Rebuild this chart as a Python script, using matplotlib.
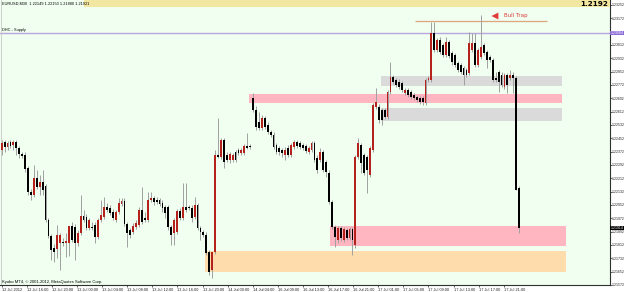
import numpy as np
import matplotlib
matplotlib.use("Agg")
import matplotlib.pyplot as plt
import matplotlib.transforms as mtransforms
from matplotlib.patches import Rectangle

# EURUSD M30 candles, oldest first
opens = [1.22382, 1.22430, 1.22400, 1.22430, 1.22412, 1.22430, 1.22394, 1.22358, 1.22352, 1.22274,
         1.22130, 1.22112, 1.22214, 1.22160, 1.22190, 1.22166, 1.21962, 1.21866, 1.21794, 1.21788,
         1.21824, 1.21830, 1.21824, 1.21824, 1.21926, 1.21920, 1.21824, 1.21884, 1.21986, 1.21980,
         1.21914, 1.21920, 1.21932, 1.21860, 1.21962, 1.21980, 1.22040, 1.22034, 1.22010, 1.21962,
         1.22010, 1.22058, 1.22076, 1.21938, 1.21902, 1.21890, 1.21920, 1.21932, 1.22022, 1.21974,
         1.21962, 1.22082, 1.22094, 1.22082, 1.22082, 1.22064, 1.22040, 1.22040, 1.21920, 1.21884,
         1.21890, 1.22016, 1.21974, 1.22040, 1.22040, 1.22034, 1.21980, 1.22052, 1.21914, 1.21890,
         1.21872, 1.21770, 1.21662, 1.21770, 1.22352, 1.22340, 1.22442, 1.22352, 1.22322, 1.22322,
         1.22370, 1.22382, 1.22364, 1.22364, 1.22406, 1.22406, 1.22694, 1.22622, 1.22550, 1.22514,
         1.22574, 1.22532, 1.22490, 1.22472, 1.22412, 1.22394, 1.22382, 1.22352, 1.22394, 1.22352,
         1.22400, 1.22430, 1.22424, 1.22412, 1.22406, 1.22370, 1.22382, 1.22424, 1.22334, 1.22322,
         1.22370, 1.22310, 1.22244, 1.22070, 1.21920, 1.21842, 1.21914, 1.21842, 1.21902, 1.21854,
         1.21908, 1.21812, 1.22340, 1.22412, 1.22352, 1.22340, 1.22232, 1.22382, 1.22640, 1.22640,
         1.22622, 1.22622, 1.22580, 1.22730, 1.22820, 1.22802, 1.22790, 1.22784, 1.22724, 1.22742,
         1.22730, 1.22712, 1.22700, 1.22694, 1.22694, 1.22664, 1.22802, 1.22802, 1.23084, 1.22982,
         1.23042, 1.23012, 1.22952, 1.23030, 1.22964, 1.22952, 1.22904, 1.22892, 1.22874, 1.22862,
         1.22844, 1.22982, 1.23024, 1.22892, 1.22940, 1.23012, 1.22970, 1.22940, 1.22922, 1.22814,
         1.22850, 1.22832, 1.22760, 1.22832, 1.22814, 1.22832, 1.22814, 1.22154]
highs = [1.22442, 1.22442, 1.22436, 1.22442, 1.22442, 1.22442, 1.22406, 1.22370, 1.22370, 1.22286,
         1.22148, 1.22292, 1.22262, 1.22232, 1.22262, 1.22178, 1.21974, 1.21878, 1.21818, 1.21932,
         1.21884, 1.21854, 1.21884, 1.21926, 1.21950, 1.21938, 1.21902, 1.22112, 1.22022, 1.21998,
         1.21974, 1.21950, 1.21950, 1.21974, 1.22082, 1.22100, 1.22064, 1.22052, 1.22028, 1.22022,
         1.22094, 1.22094, 1.22094, 1.21950, 1.21914, 1.21944, 1.21962, 1.22040, 1.22160, 1.22010,
         1.22130, 1.22130, 1.22106, 1.22100, 1.22094, 1.22082, 1.22052, 1.22052, 1.21932, 1.21974,
         1.22028, 1.22034, 1.22184, 1.22184, 1.22052, 1.22052, 1.22100, 1.22064, 1.21926, 1.21902,
         1.21890, 1.21782, 1.21770, 1.22382, 1.22574, 1.22454, 1.22454, 1.22370, 1.22370, 1.22364,
         1.22382, 1.22394, 1.22394, 1.22418, 1.22484, 1.22418, 1.22724, 1.22646, 1.22610, 1.22592,
         1.22586, 1.22550, 1.22502, 1.22490, 1.22424, 1.22406, 1.22394, 1.22400, 1.22412, 1.22424,
         1.22442, 1.22442, 1.22436, 1.22424, 1.22418, 1.22406, 1.22436, 1.22436, 1.22352, 1.22394,
         1.22382, 1.22322, 1.22262, 1.22082, 1.21932, 1.21926, 1.21926, 1.21920, 1.21914, 1.21920,
         1.21920, 1.22352, 1.22454, 1.22424, 1.22364, 1.22352, 1.22406, 1.22664, 1.22754, 1.22658,
         1.22634, 1.22634, 1.22742, 1.22910, 1.22832, 1.22814, 1.22808, 1.22796, 1.22754, 1.22754,
         1.22742, 1.22724, 1.22712, 1.22706, 1.22706, 1.22814, 1.22826, 1.23150, 1.23150, 1.23054,
         1.23060, 1.23024, 1.23060, 1.23042, 1.22976, 1.22964, 1.22916, 1.22904, 1.22886, 1.22874,
         1.23090, 1.23084, 1.23084, 1.22994, 1.23192, 1.23024, 1.22982, 1.22952, 1.22934, 1.22850,
         1.22862, 1.22850, 1.22844, 1.22844, 1.22862, 1.22850, 1.22826, 1.22166]
lows = [1.22352, 1.22370, 1.22382, 1.22394, 1.22382, 1.22352, 1.22334, 1.22334, 1.22250, 1.22112,
        1.22082, 1.22100, 1.22148, 1.22112, 1.22112, 1.21950, 1.21854, 1.21722, 1.21710, 1.21734,
        1.21662, 1.21806, 1.21740, 1.21746, 1.21830, 1.21722, 1.21806, 1.21872, 1.21950, 1.21902,
        1.21902, 1.21902, 1.21824, 1.21848, 1.21950, 1.21968, 1.22010, 1.21992, 1.21962, 1.21950,
        1.21998, 1.22046, 1.21926, 1.21800, 1.21854, 1.21878, 1.21908, 1.21920, 1.21938, 1.21950,
        1.21950, 1.22070, 1.22052, 1.22058, 1.22046, 1.22010, 1.21974, 1.21902, 1.21812, 1.21812,
        1.21878, 1.21962, 1.21962, 1.22010, 1.22022, 1.21950, 1.21968, 1.21902, 1.21842, 1.21860,
        1.21752, 1.21632, 1.21614, 1.21758, 1.22334, 1.22328, 1.22274, 1.22310, 1.22304, 1.22310,
        1.22310, 1.22352, 1.22352, 1.22352, 1.22388, 1.22388, 1.22610, 1.22502, 1.22502, 1.22502,
        1.22508, 1.22478, 1.22460, 1.22388, 1.22358, 1.22352, 1.22340, 1.22322, 1.22340, 1.22340,
        1.22388, 1.22394, 1.22388, 1.22382, 1.22364, 1.22358, 1.22370, 1.22310, 1.22244, 1.22310,
        1.22250, 1.22220, 1.22058, 1.21908, 1.21800, 1.21824, 1.21836, 1.21830, 1.21842, 1.21842,
        1.21752, 1.21794, 1.22328, 1.22244, 1.22232, 1.22124, 1.22220, 1.22370, 1.22628, 1.22544,
        1.22532, 1.22568, 1.22568, 1.22718, 1.22778, 1.22760, 1.22748, 1.22730, 1.22712, 1.22700,
        1.22688, 1.22682, 1.22670, 1.22658, 1.22652, 1.22652, 1.22790, 1.22790, 1.22970, 1.22970,
        1.22958, 1.22940, 1.22940, 1.22934, 1.22892, 1.22880, 1.22850, 1.22838, 1.22772, 1.22820,
        1.22832, 1.22970, 1.22880, 1.22880, 1.22928, 1.22952, 1.22874, 1.22910, 1.22790, 1.22790,
        1.22730, 1.22760, 1.22748, 1.22724, 1.22802, 1.22724, 1.22142, 1.21884]
closes = [1.22424, 1.22400, 1.22424, 1.22406, 1.22430, 1.22394, 1.22358, 1.22346, 1.22268, 1.22130,
          1.22112, 1.22214, 1.22160, 1.22190, 1.22142, 1.21962, 1.21866, 1.21782, 1.21770, 1.21872,
          1.21872, 1.21824, 1.21836, 1.21926, 1.21842, 1.21824, 1.21884, 1.21986, 1.21962, 1.21914,
          1.21962, 1.21914, 1.21860, 1.21962, 1.21992, 1.22040, 1.22022, 1.22004, 1.21974, 1.22010,
          1.22064, 1.22076, 1.21938, 1.21884, 1.21872, 1.21926, 1.21944, 1.22022, 1.21950, 1.21962,
          1.22082, 1.22094, 1.22070, 1.22070, 1.22058, 1.22034, 1.22004, 1.21920, 1.21872, 1.21962,
          1.22016, 1.21974, 1.22040, 1.22022, 1.22034, 1.21974, 1.22052, 1.21914, 1.21890, 1.21872,
          1.21764, 1.21650, 1.21770, 1.22352, 1.22340, 1.22442, 1.22310, 1.22322, 1.22358, 1.22352,
          1.22322, 1.22364, 1.22382, 1.22406, 1.22394, 1.22400, 1.22622, 1.22520, 1.22514, 1.22574,
          1.22520, 1.22490, 1.22472, 1.22400, 1.22370, 1.22370, 1.22364, 1.22382, 1.22352, 1.22412,
          1.22430, 1.22406, 1.22400, 1.22394, 1.22376, 1.22394, 1.22424, 1.22322, 1.22262, 1.22370,
          1.22262, 1.22250, 1.22070, 1.21920, 1.21860, 1.21914, 1.21854, 1.21908, 1.21854, 1.21908,
          1.21842, 1.22340, 1.22424, 1.22304, 1.22244, 1.22262, 1.22394, 1.22652, 1.22670, 1.22562,
          1.22562, 1.22580, 1.22730, 1.22820, 1.22790, 1.22772, 1.22760, 1.22742, 1.22742, 1.22712,
          1.22700, 1.22694, 1.22682, 1.22670, 1.22670, 1.22802, 1.22814, 1.23084, 1.22982, 1.23042,
          1.22970, 1.22952, 1.23030, 1.22946, 1.22910, 1.22892, 1.22862, 1.22850, 1.22832, 1.22832,
          1.23024, 1.23024, 1.22892, 1.22982, 1.23000, 1.22964, 1.22922, 1.22922, 1.22802, 1.22802,
          1.22790, 1.22772, 1.22832, 1.22772, 1.22832, 1.22814, 1.22142, 1.21914]

time_labels = ["12 Jul 2012", "12 Jul 16:00", "12 Jul 20:00", "13 Jul 00:00", "13 Jul 04:00",
               "13 Jul 08:00", "13 Jul 12:00", "13 Jul 16:00", "13 Jul 20:00", "14 Jul 00:00",
               "14 Jul 04:00", "16 Jul 09:00", "16 Jul 13:00", "16 Jul 17:00", "16 Jul 21:00",
               "17 Jul 01:00", "17 Jul 05:00", "17 Jul 09:00", "17 Jul 13:00", "17 Jul 17:00",
               "17 Jul 21:00"]
# the 1.23092 label sits under the supply marker in the original, so it is left blank
price_ticks = [1.23252, 1.23172, 1.23092, 1.23012, 1.22932, 1.22852, 1.22772, 1.22692, 1.22612,
               1.22532, 1.22452, 1.22372, 1.22292, 1.22212, 1.22132, 1.22052, 1.21972, 1.21892,
               1.21812, 1.21732, 1.21652, 1.21572]

# drawn zones: start bar, end bar, low, high
zone_start = [69.6, 112.3, 84.6, 129.8, 129.8]
zone_end = [193.0, 193.0, 191.7, 191.7, 191.7]
zone_low = [1.21650, 1.21806, 1.22664, 1.22766, 1.22556]
zone_high = [1.21776, 1.21926, 1.22718, 1.22826, 1.22634]
zone_colors = ['#fedcab', '#ffb6c1', '#ffb6c1', '#dadada', '#dadada']

supply_level = 1.23084
trap_level = 1.23156
trap_start, trap_end = 141.4, 186.6

W, H = 625, 292
BAR_PX = 2.923       # screen pixels per bar
AX_W, AX_H = 610, 285
SMALL = 2.8
NARROW = 'Liberation Sans'

fig = plt.figure(figsize=(W / 100, H / 100), dpi=100)
fig.patch.set_facecolor('white')
ax = fig.add_axes([0, 1 - AX_H / H, AX_W / W, AX_H / H])
ax.set_facecolor('#f0fff0')

n = len(opens)
x = np.arange(n)
o, h, l, c = map(np.array, (opens, highs, lows, closes))

for i in range(len(zone_start)):
    ax.add_patch(Rectangle((zone_start[i], zone_low[i]), zone_end[i] - zone_start[i],
                           zone_high[i] - zone_low[i], facecolor=zone_colors[i],
                           edgecolor='none', zorder=1))

ax.axhline(supply_level, color='#b9a6e0', lw=1.0, zorder=1.5)
ax.hlines(trap_level, trap_start, trap_end, color='#e0a47c', lw=0.9, zorder=1.5)

up = c >= o
ax.vlines(x, l, h, color='#a0a0a0', lw=0.7, zorder=2)
body_lo = np.minimum(o, c)
body_h = np.maximum(np.abs(c - o), 0.000015)
ax.bar(x[up], body_h[up], bottom=body_lo[up], width=0.62, color='#b5221b', zorder=3)
ax.bar(x[~up], body_h[~up], bottom=body_lo[~up], width=0.62, color='black', zorder=3)

ax.set_xlim(-1.7 / BAR_PX, (AX_W - 1.7) / BAR_PX)
ax.set_ylim(1.21572, 1.23282)

# axes styling, MT4 like
for s in ['top', 'left']:
    ax.spines[s].set_visible(False)
for s in ['right', 'bottom']:
    ax.spines[s].set_color('#303030')
    ax.spines[s].set_linewidth(0.8)
ax.yaxis.tick_right()
ax.set_yticks(price_ticks)
ax.set_yticklabels(["" if abs(p - supply_level) < 0.0002 else f"{p:.5f}" for p in price_ticks],
                   family=NARROW)
ax.tick_params(axis='y', direction='out', length=1.2, width=0.5, pad=0.4,
               labelsize=2.5, colors='#202020')
ax.set_xticks(np.arange(len(time_labels)) * 25.1 / BAR_PX)
ax.set_xticklabels(time_labels, ha='left', family=NARROW)
ax.tick_params(axis='x', direction='out', length=1.5, width=0.5, pad=0.6,
               labelsize=SMALL, colors='#202020')
ax.axvline(-0.3, color='#c8c8c8', lw=0.6)

# price markers on the right axis
yax = mtransforms.blended_transform_factory(ax.transAxes, ax.transData)
ax.text(1.001, supply_level, f"{supply_level:.5f}", transform=yax, fontsize=2.5,
        family=NARROW, color='white', va='center', ha='left', zorder=10, clip_on=False,
        bbox=dict(boxstyle='square,pad=0.08', facecolor='#8c6bd6', edgecolor='none'))
ax.text(1.001, closes[-1], f"{closes[-1]:.5f}", transform=yax, fontsize=2.5,
        family=NARROW, color='white', va='center', ha='left', zorder=10, clip_on=False,
        bbox=dict(boxstyle='square,pad=0.08', facecolor='black', edgecolor='none'))

# annotation
ax.annotate("", xy=(166.6, 1.23186), xytext=(170.0, 1.23186),
            arrowprops=dict(arrowstyle='simple,head_width=0.5,head_length=0.5,tail_width=0.25',
                            color='#e03a3a', lw=0), zorder=5)
ax.text(171.8, 1.23186, "Bull Trap", color='#e03a3a', fontsize=4.0,
        ha='left', va='center', zorder=5)

# header strip and captions
fig.patches.append(Rectangle((84 / W, 1 - 7 / H), (AX_W - 84) / W, 7 / H,
                             transform=fig.transFigure, facecolor='#f2e7a0',
                             edgecolor='none', zorder=0))
fig.text(2 / W, 1 - 3.5 / H, "EURUSD,M30  1.22149 1.22150 1.21880 1.21921",
         fontsize=SMALL, family=NARROW, va='center', ha='left', color='black')
fig.text(608 / W, 1 - 3.8 / H, "1.2192", fontsize=5.2, fontweight='bold',
         va='center', ha='right', color='black')
fig.text(2 / W, 1 - 30.5 / H, "DHC - Supply", fontsize=SMALL, family=NARROW,
         va='center', ha='left')
fig.text(2 / W, 1 - 282.5 / H, "Kyobo MT4, \u00a9 2001-2012, MetaQuotes Software Corp.",
         fontsize=3.0, family=NARROW, va='center', ha='left')

plt.savefig("out.png", dpi=100)
